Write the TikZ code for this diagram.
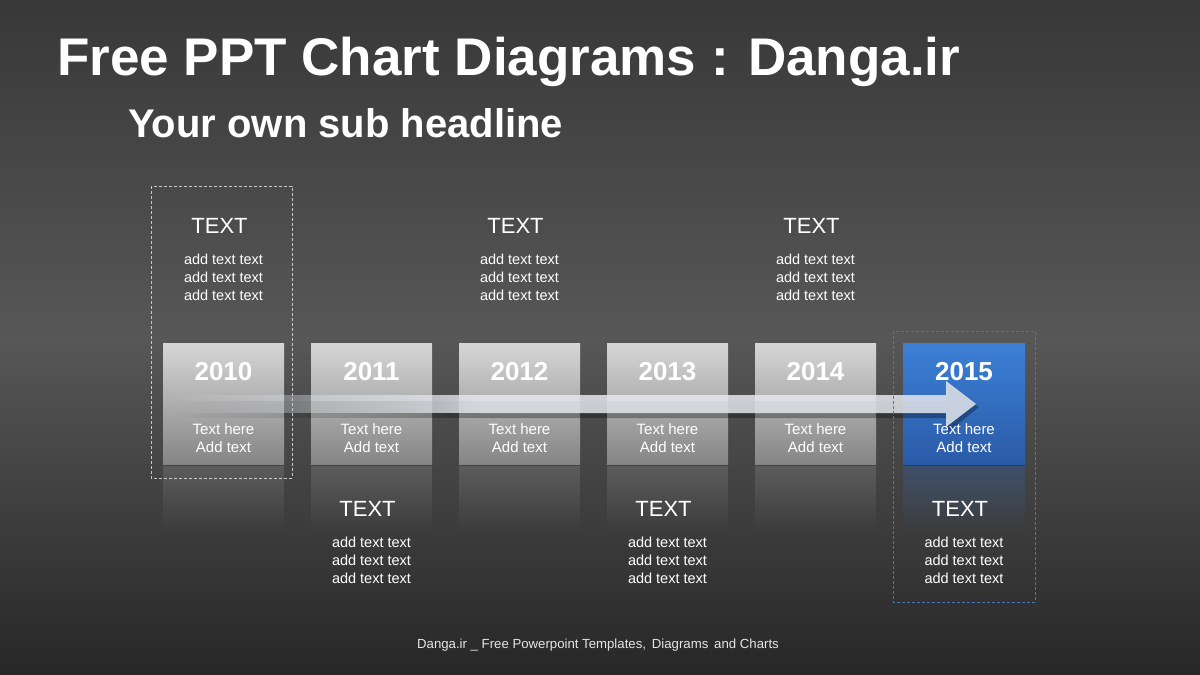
\documentclass[tikz,border=0pt]{standalone}
\usepackage{fontspec}
\setmainfont{Liberation Sans}
\usetikzlibrary{fadings}
\definecolor{bgtop}{HTML}{383838}
\definecolor{bgmid}{HTML}{575757}
\definecolor{bgbot}{HTML}{272727}
\definecolor{boxtop}{HTML}{D6D6D6}
\definecolor{boxbot}{HTML}{858585}
\definecolor{bluetop}{HTML}{3C80D6}
\definecolor{bluebot}{HTML}{2A5BA8}
\definecolor{dashgray}{HTML}{C8C8C8}
\definecolor{dashblue}{HTML}{4A78B5}
\definecolor{arrowcol}{HTML}{E4E8EE}
\tikzfading[name=arrowfade, left color=transparent!100, right color=transparent!0]
\tikzfading[name=reflfade, top color=transparent!0, bottom color=transparent!100]
\tikzset{
  yearbox/.style={minimum width=121pt, minimum height=121pt, inner sep=0pt, top color=boxtop, bottom color=boxbot},
  bluebox/.style={minimum width=122pt, minimum height=121pt, inner sep=0pt, top color=bluetop, bottom color=bluebot},
  yeartxt/.style={text=white, font=\fontsize{26}{30}\selectfont\bfseries, inner sep=0pt},
  intxt/.style={text=white, font=\fontsize{15}{18}\selectfont, align=center, inner sep=0pt},
  captxt/.style={text=white, font=\fontsize{22}{26}\selectfont, inner sep=0pt},
  bodytxt/.style={text=white, font=\fontsize{14.5}{18}\selectfont, align=center, inner sep=0pt},
  refl/.style={fill=#1, path fading=reflfade},
  frame/.style={draw=#1, line width=0.8pt, dash pattern=on 3pt off 2pt}
}
\begin{document}
\begin{tikzpicture}[x=1pt,y=-1pt]
\useasboundingbox (0,0) rectangle (1200,675);
\shade[top color=bgtop, bottom color=bgbot, middle color=bgmid] (0,0) rectangle (1200,675);

% titles
\node[anchor=base west, text=white, font=\fontsize{53}{60}\selectfont\bfseries, inner sep=0pt] (title) at (57,75) {Free PPT Chart Diagrams : Danga.ir};
\node[anchor=base west, text=white, font=\fontsize{40}{46}\selectfont\bfseries, inner sep=0pt] (sub) at (128,137) {Your own sub headline};

% reflections
\foreach \n/\x in {2010/223.5,2011/371.5,2012/519.5,2013/667.5,2014/815.5}{
  \fill[refl={white!30!bgmid}, fill opacity=0.35] (\x-60.5,465) rectangle (\x+60.5,532);
}
\fill[refl={bluebot!60!bgmid}, fill opacity=0.55] (903,465) rectangle (1025,532);

% boxes (with faint drop shadow)
\foreach \n/\x in {2010/223.5,2011/371.5,2012/519.5,2013/667.5,2014/815.5}{
  \fill[black, fill opacity=0.25] (\x-60.5,464) rectangle (\x+60.5,466);
  \node[yearbox] (b\n) at (\x,403.5) {};
  \node[yeartxt] (y\n) at (\x,372) {\n};
  \node[intxt] (t\n) at (\x,438) {Text here\\Add text};
}
\fill[black, fill opacity=0.25] (903,464) rectangle (1025,466);
\node[bluebox] (b2015) at (964,403.5) {};
\node[yeartxt] (y2015) at (964,372) {2015};

% arrow
\coordinate (arrowstart) at (170,404);
\coordinate (arrowtip) at (976,404);
\fill[black, fill opacity=0.3, path fading=arrowfade] (172,401) rectangle (482,418);
\fill[black, fill opacity=0.3] (482,401) -- (948,401) -- (948,386) -- ([shift={(3,3)}]arrowtip) -- (948,432) -- (948,418) -- (482,418) -- cycle;
\fill[arrowcol, fill opacity=0.85, path fading=arrowfade] (arrowstart |- 0,395) rectangle (480,413);
\fill[arrowcol, fill opacity=0.85] (480,395) -- (946,395) -- (946,381) -- (arrowtip) -- (946,427) -- (946,413) -- (480,413) -- cycle;

\node[intxt] (t2015) at (964,438) {Text here\\Add text};

% top captions
\foreach \n/\x in {2010/223.5,2012/519.5,2014/815.5}{
  \node[captxt] (c\n) at (\x-4,226) {TEXT};
  \node[bodytxt] (d\n) at (\x,277) {add text text\\add text text\\add text text};
}
% bottom captions
\foreach \n/\x in {2011/371.5,2013/667.5,2015/964}{
  \node[captxt] (c\n) at (\x-4,509) {TEXT};
  \node[bodytxt] (d\n) at (\x,560) {add text text\\add text text\\add text text};
}

% dashed frames
\draw[frame=dashgray] (151,186) rectangle (292,478);
\draw[frame=dashblue] (893,331) rectangle (1035,602);

% footer
\node[text=white!90!black, font=\fontsize{13.2}{15}\selectfont, inner sep=0pt] (foot) at (598,645) {Danga.ir \_ Free Powerpoint Templates,\, Diagrams\, and Charts};
\end{tikzpicture}
\end{document}
